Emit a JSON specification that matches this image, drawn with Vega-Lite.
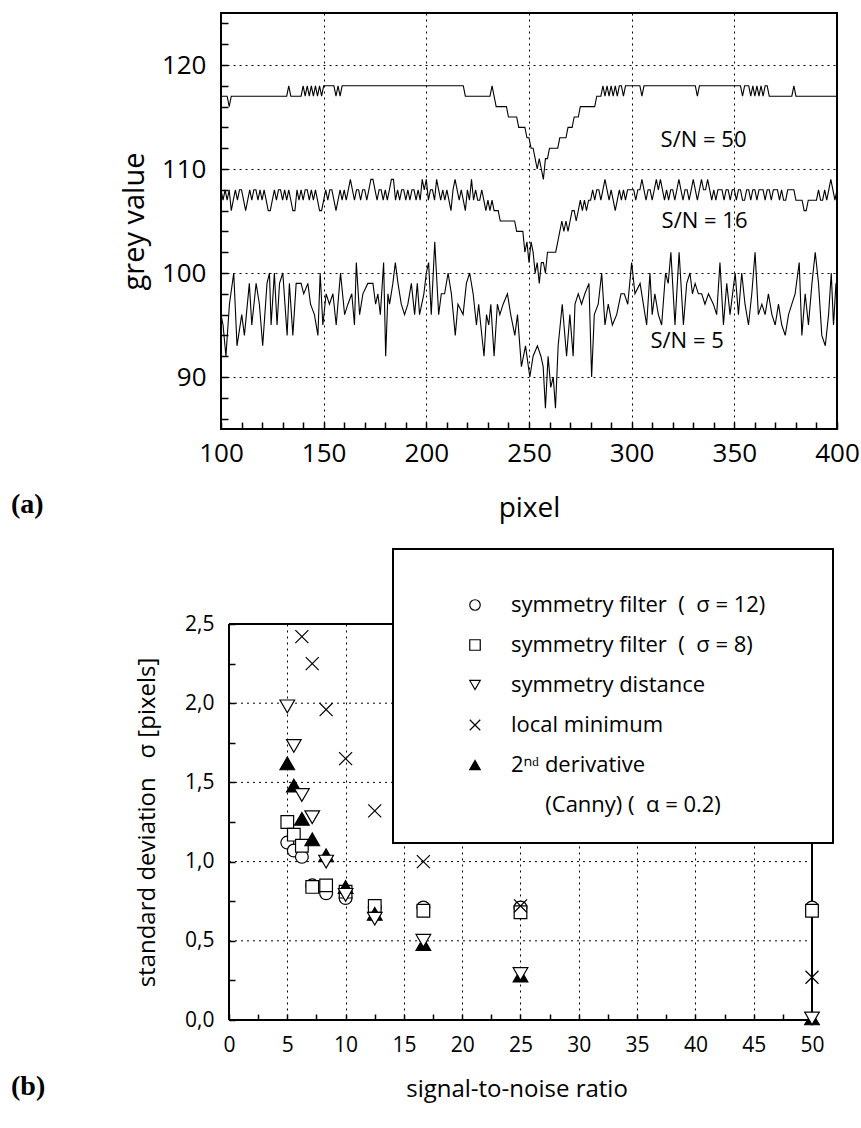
{
"$schema": "https://vega.github.io/schema/vega-lite/v6.json",
"background": "white",
"padding": {"left": 10, "top": 9, "right": 0, "bottom": 12},
"spacing": 25,
"resolve": {"scale": {"shape": "independent", "fill": "independent", "size": "independent"}, "legend": {"shape": "independent", "fill": "independent", "size": "independent"}},
"config": {
 "font": "Open Sans",
 "view": {"stroke": "black", "strokeWidth": 2},
 "axis": {"domain": false, "labelFont": "Open Sans", "titleFont": "Open Sans", "labelColor": "black", "titleColor": "black", "tickColor": "black", "tickWidth": 1.5, "titleFontWeight": "normal", "labelFlush": false, "labelOverlap": false, "gridColor": "black", "gridDash": [2, 4], "gridWidth": 1, "tickCount": 200},
 "legend": {"strokeWidth": 2}
},
"datasets": {
 "sn50": [
  {"p":100,"v":117},{"p":103,"v":117},{"p":104,"v":116},{"p":105,"v":117},{"p":132,"v":117},{"p":133,"v":118},{"p":134,"v":117},{"p":139,"v":117},{"p":140,"v":118},{"p":141,"v":117},{"p":142,"v":118},{"p":143,"v":117},{"p":144,"v":118},{"p":145,"v":117},{"p":146,"v":118},{"p":147,"v":117},{"p":148,"v":118},{"p":149,"v":117},{"p":150,"v":118},{"p":155,"v":118},{"p":156,"v":117},{"p":157,"v":118},{"p":158,"v":117},{"p":159,"v":118},{"p":218,"v":118},{"p":219,"v":117},{"p":231,"v":117},{"p":232,"v":118},{"p":233,"v":117},{"p":234,"v":116},{"p":239,"v":116},{"p":240,"v":115},{"p":244,"v":115},{"p":245,"v":114},{"p":248,"v":114},{"p":249,"v":113},{"p":250,"v":113},{"p":251,"v":112},{"p":252,"v":112},{"p":253,"v":111},{"p":254,"v":110},{"p":255,"v":111},{"p":256,"v":110},{"p":257,"v":109},{"p":258,"v":111},{"p":259,"v":111},{"p":260,"v":112},{"p":264,"v":112},{"p":265,"v":113},{"p":268,"v":113},{"p":269,"v":114},{"p":271,"v":114},{"p":272,"v":115},{"p":274,"v":115},{"p":275,"v":116},{"p":282,"v":116},{"p":283,"v":117},{"p":285,"v":117},{"p":286,"v":118},{"p":287,"v":117},{"p":288,"v":118},{"p":289,"v":117},{"p":290,"v":118},{"p":291,"v":117},{"p":292,"v":118},{"p":293,"v":117},{"p":294,"v":118},{"p":295,"v":118},{"p":296,"v":117},{"p":297,"v":118},{"p":304,"v":118},{"p":305,"v":117},{"p":306,"v":118},{"p":331,"v":118},{"p":332,"v":117},{"p":333,"v":118},{"p":353,"v":118},{"p":354,"v":117},{"p":355,"v":118},{"p":357,"v":118},{"p":358,"v":117},{"p":359,"v":118},{"p":360,"v":117},{"p":361,"v":118},{"p":362,"v":117},{"p":363,"v":118},{"p":364,"v":117},{"p":365,"v":118},{"p":366,"v":118},{"p":367,"v":117},{"p":378,"v":117},{"p":379,"v":118},{"p":380,"v":117},{"p":400,"v":117}
 ],
 "sn16": [
  {"p":100,"v":108},{"p":101,"v":107},{"p":102,"v":108},{"p":103,"v":107},{"p":104,"v":108},{"p":105,"v":106},{"p":106,"v":107},{"p":107,"v":108},{"p":108,"v":107},{"p":109,"v":108},{"p":110,"v":108},{"p":111,"v":107},{"p":112,"v":106},{"p":113,"v":107},{"p":114,"v":108},{"p":115,"v":107},{"p":116,"v":108},{"p":117,"v":108},{"p":118,"v":107},{"p":119,"v":108},{"p":120,"v":107},{"p":121,"v":108},{"p":122,"v":107},{"p":123,"v":106},{"p":124,"v":106},{"p":125,"v":107},{"p":126,"v":108},{"p":127,"v":107},{"p":128,"v":108},{"p":129,"v":108},{"p":130,"v":107},{"p":131,"v":108},{"p":132,"v":107},{"p":133,"v":108},{"p":134,"v":107},{"p":135,"v":106},{"p":136,"v":106},{"p":137,"v":108},{"p":138,"v":107},{"p":139,"v":108},{"p":140,"v":107},{"p":141,"v":108},{"p":142,"v":108},{"p":143,"v":107},{"p":144,"v":108},{"p":145,"v":107},{"p":146,"v":108},{"p":147,"v":107},{"p":148,"v":106},{"p":149,"v":106},{"p":150,"v":107},{"p":151,"v":108},{"p":152,"v":107},{"p":153,"v":108},{"p":154,"v":108},{"p":155,"v":107},{"p":156,"v":106},{"p":157,"v":107},{"p":158,"v":108},{"p":159,"v":107},{"p":160,"v":108},{"p":161,"v":107},{"p":162,"v":108},{"p":163,"v":109},{"p":164,"v":108},{"p":165,"v":107},{"p":166,"v":108},{"p":167,"v":108},{"p":168,"v":107},{"p":169,"v":108},{"p":170,"v":108},{"p":171,"v":107},{"p":172,"v":108},{"p":173,"v":109},{"p":174,"v":109},{"p":175,"v":108},{"p":176,"v":107},{"p":177,"v":108},{"p":178,"v":108},{"p":179,"v":107},{"p":180,"v":108},{"p":181,"v":107},{"p":182,"v":108},{"p":183,"v":109},{"p":184,"v":109},{"p":185,"v":107},{"p":186,"v":108},{"p":187,"v":107},{"p":188,"v":108},{"p":189,"v":108},{"p":190,"v":107},{"p":191,"v":108},{"p":192,"v":107},{"p":193,"v":108},{"p":194,"v":108},{"p":195,"v":107},{"p":196,"v":108},{"p":197,"v":107},{"p":198,"v":109},{"p":199,"v":108},{"p":200,"v":109},{"p":201,"v":107},{"p":202,"v":108},{"p":203,"v":108},{"p":204,"v":107},{"p":205,"v":109},{"p":206,"v":108},{"p":207,"v":107},{"p":208,"v":108},{"p":209,"v":107},{"p":210,"v":108},{"p":211,"v":107},{"p":212,"v":106},{"p":213,"v":108},{"p":214,"v":109},{"p":215,"v":108},{"p":216,"v":107},{"p":217,"v":108},{"p":218,"v":107},{"p":219,"v":106},{"p":220,"v":108},{"p":221,"v":107},{"p":222,"v":109},{"p":223,"v":107},{"p":224,"v":108},{"p":225,"v":107},
  {"p":226,"v":107},{"p":227,"v":108},{"p":228,"v":107},{"p":229,"v":106},{"p":230,"v":107},{"p":231,"v":106},{"p":232,"v":107},{"p":233,"v":106},{"p":234,"v":106},{"p":235,"v":106},{"p":236,"v":105},{"p":243,"v":105},{"p":244,"v":104},{"p":247,"v":104},{"p":248,"v":102},{"p":249,"v":103},{"p":250,"v":101},{"p":251,"v":103},{"p":252,"v":102},{"p":253,"v":100},{"p":254,"v":101},{"p":255,"v":99},{"p":256,"v":101},{"p":257,"v":101},{"p":258,"v":100},{"p":259,"v":102},{"p":263,"v":102},{"p":264,"v":103},{"p":265,"v":104},{"p":266,"v":105},{"p":267,"v":104},{"p":268,"v":105},{"p":269,"v":104},{"p":270,"v":105},{"p":271,"v":106},{"p":272,"v":106},{"p":273,"v":105},{"p":274,"v":106},{"p":275,"v":107},{"p":276,"v":106},{"p":277,"v":107},{"p":278,"v":106},{"p":279,"v":107},{"p":280,"v":107},{"p":281,"v":108},{"p":282,"v":107},{"p":283,"v":108},{"p":284,"v":108},{"p":285,"v":107},
  {"p":286,"v":108},{"p":287,"v":109},{"p":288,"v":108},{"p":289,"v":107},{"p":290,"v":108},{"p":291,"v":107},{"p":292,"v":106},{"p":293,"v":107},{"p":294,"v":108},{"p":295,"v":107},{"p":296,"v":108},{"p":297,"v":107},{"p":298,"v":108},{"p":301,"v":108},{"p":302,"v":107},{"p":303,"v":108},{"p":304,"v":108},{"p":305,"v":109},{"p":306,"v":108},{"p":307,"v":107},{"p":308,"v":108},{"p":309,"v":108},{"p":310,"v":107},{"p":311,"v":108},{"p":312,"v":109},{"p":313,"v":108},{"p":314,"v":109},{"p":315,"v":108},{"p":316,"v":107},{"p":317,"v":108},{"p":318,"v":107},{"p":319,"v":108},{"p":320,"v":108},{"p":321,"v":107},{"p":322,"v":108},{"p":323,"v":109},{"p":324,"v":108},{"p":325,"v":107},{"p":326,"v":108},{"p":327,"v":108},{"p":328,"v":107},{"p":329,"v":108},{"p":330,"v":109},{"p":331,"v":108},{"p":332,"v":107},{"p":333,"v":108},{"p":334,"v":109},{"p":335,"v":108},{"p":336,"v":108},{"p":337,"v":109},{"p":338,"v":108},{"p":339,"v":107},{"p":340,"v":108},{"p":341,"v":107},{"p":342,"v":108},{"p":344,"v":108},{"p":345,"v":107},{"p":346,"v":108},{"p":347,"v":108},{"p":348,"v":107},{"p":349,"v":108},{"p":350,"v":108},{"p":351,"v":107},{"p":352,"v":108},{"p":353,"v":108},{"p":354,"v":107},{"p":355,"v":107},{"p":356,"v":108},{"p":357,"v":108},{"p":358,"v":107},{"p":359,"v":108},{"p":360,"v":108},{"p":361,"v":107},{"p":362,"v":108},{"p":364,"v":108},{"p":365,"v":107},{"p":366,"v":108},{"p":367,"v":108},{"p":368,"v":107},{"p":369,"v":108},{"p":371,"v":108},{"p":372,"v":107},{"p":373,"v":108},{"p":374,"v":107},{"p":375,"v":107},{"p":376,"v":108},{"p":379,"v":108},{"p":380,"v":107},{"p":383,"v":107},{"p":384,"v":106},{"p":385,"v":106},{"p":386,"v":107},{"p":390,"v":107},{"p":391,"v":108},{"p":392,"v":107},{"p":393,"v":107},{"p":394,"v":108},{"p":395,"v":107},{"p":396,"v":108},{"p":397,"v":109},{"p":398,"v":108},{"p":399,"v":107},{"p":400,"v":108}
 ],
 "sn5": [
  {"p":100,"v":96},{"p":101,"v":95},{"p":102.4,"v":92},{"p":104.1,"v":97},{"p":106.2,"v":100},{"p":107.8,"v":93},{"p":110.1,"v":96},{"p":111.4,"v":94},{"p":113.8,"v":99},{"p":115,"v":95},{"p":117.1,"v":99},{"p":118.7,"v":97},{"p":120.3,"v":93},{"p":122.4,"v":99},{"p":123.6,"v":100},{"p":124.4,"v":95},{"p":126,"v":100},{"p":127.3,"v":95},{"p":128.5,"v":99},{"p":130.1,"v":100},{"p":132.2,"v":94},{"p":133.3,"v":99},{"p":135,"v":94},{"p":136.6,"v":99},{"p":139,"v":99},{"p":140.3,"v":98},{"p":142.3,"v":99},{"p":143.6,"v":97},{"p":145.5,"v":96},{"p":147.2,"v":94},{"p":148.3,"v":100},{"p":149.6,"v":95},{"p":151.2,"v":98},{"p":152.8,"v":97},{"p":154.5,"v":98},{"p":156.1,"v":95},{"p":158.2,"v":100},{"p":160.2,"v":96},{"p":161.8,"v":97},{"p":163.7,"v":98},{"p":165,"v":95},{"p":165.9,"v":101},{"p":167.5,"v":96},{"p":169.1,"v":98},{"p":171.5,"v":99},{"p":174,"v":99},{"p":175.3,"v":97},{"p":176.4,"v":98},{"p":177.6,"v":96},{"p":179.2,"v":101},{"p":180.2,"v":92},{"p":181.3,"v":98},{"p":182.1,"v":97},{"p":183.7,"v":99},{"p":184.9,"v":101},{"p":186.2,"v":99},{"p":187.8,"v":97},{"p":189.4,"v":96},{"p":191,"v":97},{"p":192.7,"v":99},{"p":194.3,"v":96},{"p":195.6,"v":99},{"p":196.7,"v":96},{"p":198.8,"v":98},{"p":200,"v":100},{"p":201.1,"v":101},{"p":202.4,"v":96},{"p":204.1,"v":103},{"p":206,"v":96},{"p":207.3,"v":98},{"p":208.9,"v":98},{"p":210.6,"v":100},{"p":212.2,"v":98},{"p":214.1,"v":94},{"p":215.4,"v":97},{"p":217.9,"v":96},{"p":219.5,"v":99},{"p":221.1,"v":100},{"p":222.8,"v":98},{"p":224.4,"v":95},{"p":225.5,"v":97},{"p":226.5,"v":95},{"p":228.1,"v":92},{"p":229.3,"v":96},{"p":230.4,"v":95},{"p":231.4,"v":97},{"p":233,"v":92},{"p":234.6,"v":97},{"p":235.8,"v":96},{"p":237.4,"v":97},{"p":239.5,"v":98},{"p":241.1,"v":96},{"p":243.1,"v":94},{"p":244.4,"v":96},{"p":246.3,"v":91},{"p":248.3,"v":93},{"p":250.4,"v":90},{"p":252,"v":92},{"p":254.1,"v":93},{"p":255.8,"v":92},{"p":256.9,"v":91},{"p":258,"v":87},{"p":259.3,"v":92},{"p":260.6,"v":89},{"p":261.8,"v":90},{"p":262.9,"v":87},{"p":264.2,"v":93},{"p":266.2,"v":97},{"p":268.3,"v":92},{"p":269.9,"v":96},{"p":271.5,"v":92},{"p":272.4,"v":97},{"p":274,"v":98},{"p":275.6,"v":97},{"p":277.2,"v":98},{"p":279.2,"v":99},{"p":280.5,"v":90},{"p":281.8,"v":96},{"p":283.7,"v":97},{"p":285.4,"v":100},{"p":287,"v":95},{"p":288.6,"v":97},{"p":290.6,"v":95},{"p":292.7,"v":96},{"p":294.8,"v":98},{"p":296.4,"v":98},{"p":298.1,"v":97},{"p":300,"v":101},{"p":301.6,"v":98},{"p":304.1,"v":99},{"p":307.3,"v":95},{"p":308.9,"v":100},{"p":310,"v":96},{"p":311.3,"v":98},{"p":313,"v":96},{"p":314.6,"v":95},{"p":316.5,"v":100},{"p":317.8,"v":99},{"p":319.1,"v":102},{"p":321.1,"v":95},{"p":323.1,"v":102},{"p":325.2,"v":95},{"p":326.8,"v":99},{"p":328.4,"v":100},{"p":329.6,"v":98},{"p":330.9,"v":99},{"p":332.5,"v":98},{"p":334.1,"v":98},{"p":335.7,"v":97},{"p":337.4,"v":98},{"p":339.8,"v":97},{"p":341.4,"v":96},{"p":343,"v":101},{"p":344.7,"v":95},{"p":346.3,"v":99},{"p":347.9,"v":96},{"p":350.4,"v":100},{"p":352,"v":96},{"p":353.6,"v":100},{"p":355.2,"v":97},{"p":356.9,"v":95},{"p":358.5,"v":98},{"p":360.1,"v":102},{"p":361.7,"v":96},{"p":363.4,"v":97},{"p":365,"v":96},{"p":366.6,"v":98},{"p":368.3,"v":96},{"p":369.9,"v":95},{"p":371.5,"v":97},{"p":373.1,"v":95},{"p":374.8,"v":94},{"p":376.4,"v":96},{"p":378,"v":97},{"p":379.6,"v":98},{"p":381.6,"v":101},{"p":382.9,"v":94},{"p":384.5,"v":98},{"p":386.1,"v":95},{"p":387.8,"v":99},{"p":389.4,"v":102},{"p":391,"v":99},{"p":392.6,"v":94},{"p":394.3,"v":93},{"p":395.9,"v":96},{"p":397.2,"v":100},{"p":398.3,"v":95},{"p":399.5,"v":99},{"p":400,"v":98}
 ],
 "snlabels": [
  {"p":335,"v":112.8,"t":"S/N = 50"},
  {"p":335.5,"v":105,"t":"S/N = 16"},
  {"p":327,"v":93.5,"t":"S/N = 5"}
 ],
 "sigma": [
  {"snr":5,"sd":1.12,"m":"c12"},{"snr":5.56,"sd":1.07,"m":"c12"},{"snr":6.25,"sd":1.03,"m":"c12"},{"snr":7.14,"sd":0.85,"m":"c12"},{"snr":8.33,"sd":0.8,"m":"c12"},{"snr":10,"sd":0.77,"m":"c12"},{"snr":12.5,"sd":0.71,"m":"c12"},{"snr":16.67,"sd":0.71,"m":"c12"},{"snr":25,"sd":0.71,"m":"c12"},{"snr":50,"sd":0.71,"m":"c12"},
  {"snr":5,"sd":1.25,"m":"c8"},{"snr":5.56,"sd":1.17,"m":"c8"},{"snr":6.25,"sd":1.1,"m":"c8"},{"snr":7.14,"sd":0.84,"m":"c8"},{"snr":8.33,"sd":0.85,"m":"c8"},{"snr":10,"sd":0.81,"m":"c8"},{"snr":12.5,"sd":0.72,"m":"c8"},{"snr":16.67,"sd":0.69,"m":"c8"},{"snr":25,"sd":0.68,"m":"c8"},{"snr":50,"sd":0.69,"m":"c8"},
  {"snr":5,"sd":1.62,"m":"d2"},{"snr":5.56,"sd":1.48,"m":"d2"},{"snr":6.25,"sd":1.27,"m":"d2"},{"snr":7.14,"sd":1.14,"m":"d2"},{"snr":8.33,"sd":1.04,"m":"d2"},{"snr":10,"sd":0.84,"m":"d2"},{"snr":12.5,"sd":0.67,"m":"d2"},{"snr":16.67,"sd":0.48,"m":"d2"},{"snr":25,"sd":0.28,"m":"d2"},{"snr":50,"sd":0.01,"m":"d2"},
  {"snr":5,"sd":1.98,"m":"sd"},{"snr":5.56,"sd":1.73,"m":"sd"},{"snr":6.25,"sd":1.42,"m":"sd"},{"snr":7.14,"sd":1.28,"m":"sd"},{"snr":8.33,"sd":1.0,"m":"sd"},{"snr":10,"sd":0.79,"m":"sd"},{"snr":12.5,"sd":0.64,"m":"sd"},{"snr":16.67,"sd":0.5,"m":"sd"},{"snr":25,"sd":0.29,"m":"sd"},{"snr":50,"sd":0.01,"m":"sd"},
  {"snr":6.25,"sd":2.42,"m":"lm"},{"snr":7.14,"sd":2.25,"m":"lm"},{"snr":8.33,"sd":1.96,"m":"lm"},{"snr":10,"sd":1.65,"m":"lm"},{"snr":12.5,"sd":1.32,"m":"lm"},{"snr":16.67,"sd":1.0,"m":"lm"},{"snr":25,"sd":0.72,"m":"lm"},{"snr":50,"sd":0.27,"m":"lm"}
 ],
 "ygrid": [{"g":0.5},{"g":1.0},{"g":1.5},{"g":2.0}],
 "hframe": [{"g":0},{"g":2.5}],
 "vframe": [{"g":0},{"g":50}]
},
"vconcat": [
 {
  "width": 616, "height": 416,
  "title": {"text": "(a)", "orient": "bottom", "anchor": "start", "frame": "group", "font": "Liberation Serif", "fontWeight": "bold", "fontSize": 28, "color": "black", "dx": -210, "dy": -31, "offset": 0},
  "layer": [
   {"data": {"name": "sn5"}, "mark": {"type": "line", "color": "black", "strokeWidth": 1.1},
    "encoding": {
     "x": {"field": "p", "type": "quantitative", "scale": {"domain": [100, 400], "nice": false},
      "axis": {"title": "pixel", "values": [100,110,120,130,140,150,160,170,180,190,200,210,220,230,240,250,260,270,280,290,300,310,320,330,340,350,360,370,380,390,400], "tickCount": 200,
       "labelExpr": "datum.value % 50 === 0 ? '' + datum.value : ''", "labelOverlap": false, "grid": true,
       "gridOpacity": {"condition": {"test": "datum.value % 50 === 0 && datum.value > 100 && datum.value < 400", "value": 1}, "value": 0},
       "tickSize": -7, "labelFontSize": 26, "labelPadding": 18, "titleFontSize": 28, "titlePadding": 28}},
     "y": {"field": "v", "type": "quantitative", "scale": {"domain": [85, 125], "nice": false, "zero": false},
      "axis": {"title": "grey value", "values": [86,88,90,92,94,96,98,100,102,104,106,108,110,112,114,116,118,120,122,124], "tickCount": 200,
       "labelExpr": "datum.value % 10 === 0 ? '' + datum.value : ''", "labelOverlap": false, "grid": true,
       "gridOpacity": {"condition": {"test": "datum.value % 10 === 0", "value": 1}, "value": 0},
       "tickSize": -7, "labelFontSize": 26, "labelPadding": 22, "titleFontSize": 29, "titlePadding": 12}}
    }},
   {"data": {"name": "sn16"}, "mark": {"type": "line", "color": "black", "strokeWidth": 1.1},
    "encoding": {"x": {"field": "p", "type": "quantitative"}, "y": {"field": "v", "type": "quantitative"}}},
   {"data": {"name": "sn50"}, "mark": {"type": "line", "color": "black", "strokeWidth": 1.1},
    "encoding": {"x": {"field": "p", "type": "quantitative"}, "y": {"field": "v", "type": "quantitative"}}},
   {"mark": {"type": "rule", "color": "black", "strokeWidth": 1.4, "strokeDash": [9, 3, 2, 3]},
    "encoding": {"x": {"datum": 256.6}}},
   {"data": {"name": "snlabels"}, "mark": {"type": "text", "font": "Open Sans", "fontSize": 22, "color": "black", "align": "center", "baseline": "middle"},
    "encoding": {"x": {"field": "p", "type": "quantitative"}, "y": {"field": "v", "type": "quantitative"}, "text": {"field": "t"}}}
  ]
 },
 {
  "width": 591, "height": 396,
  "view": {"stroke": null},
  "title": {"text": "(b)", "orient": "bottom", "anchor": "start", "frame": "group", "font": "Liberation Serif", "fontWeight": "bold", "fontSize": 28, "color": "black", "dx": -210, "dy": -28, "offset": 0},
  "layer": [
   {"data": {"name": "ygrid"}, "mark": {"type": "rule", "color": "black", "strokeWidth": 1, "strokeDash": [2, 4]},
    "encoding": {"x": {"datum": 0}, "x2": {"datum": 50}, "y": {"field": "g", "type": "quantitative"}}},
   {"data": {"name": "hframe"}, "mark": {"type": "rule", "color": "black", "strokeWidth": 2},
    "encoding": {"x": {"datum": 0}, "x2": {"datum": 50}, "y": {"field": "g", "type": "quantitative"}}},
   {"data": {"name": "vframe"}, "mark": {"type": "rule", "color": "black", "strokeWidth": 2},
    "encoding": {"x": {"field": "g", "type": "quantitative"}, "y": {"datum": 0}, "y2": {"datum": 2.5}}},
   {"data": {"name": "sigma"}, "mark": {"type": "point", "filled": true, "stroke": "black", "strokeWidth": 1.2, "opacity": 1},
    "encoding": {
     "x": {"field": "snr", "type": "quantitative", "scale": {"domain": [-0.686, 50], "nice": false, "zero": false},
      "axis": {"title": "signal-to-noise ratio", "values": [0,2.5,5,7.5,10,12.5,15,17.5,20,22.5,25,27.5,30,32.5,35,37.5,40,42.5,45,47.5,50], "tickCount": 200,
       "labelExpr": "datum.value % 5 === 0 ? '' + datum.value : ''", "labelOverlap": false, "grid": true,
       "gridOpacity": {"condition": {"test": "datum.value % 5 === 0 && datum.value > 0 && datum.value < 50", "value": 1}, "value": 0},
       "tickSize": -6, "labelFontSize": 21, "labelPadding": 20, "titleFontSize": 24, "titlePadding": 22}},
     "y": {"field": "sd", "type": "quantitative", "scale": {"domain": [0, 2.5], "nice": false},
      "axis": {"title": "standard deviation\u00a0\u00a0\u00a0σ [pixels]", "offset": -8, "values": [0,0.25,0.5,0.75,1,1.25,1.5,1.75,2,2.25,2.5], "tickCount": 200,
       "labelExpr": "(datum.value * 2) % 1 === 0 ? replace(format(datum.value, '.1f'), '.', ',') : ''", "labelOverlap": false, "grid": false,
       "tickSize": -6, "labelFontSize": 21, "labelPadding": 21, "titleFontSize": 24, "titlePadding": 25}},
     "shape": {"field": "m", "type": "nominal",
      "scale": {"domain": ["c12", "c8", "sd", "lm", "d2", "canny"], "range": ["circle", "square", "triangle-down", "M-1,-1L1,1M1,-1L-1,1", "triangle-up", "M0,0"]},
      "legend": {"orient": "none", "legendX": 172, "legendY": -75, "direction": "vertical", "title": "\u00a0", "titleFontSize": 10, "titlePadding": 8, "padding": 27, "fillColor": "white", "strokeColor": "black", "symbolSize": 110, "symbolStrokeWidth": 1.2, "symbolOffset": 44, "labelOffset": 25, "rowPadding": 18, "labelFont": "Open Sans", "labelFontSize": 22, "labelColor": "black", "labelLimit": 700,
       "labelExpr": "{'c12': 'symmetry filter\u00a0\u00a0(\u00a0\u00a0σ = 12)\u00a0\u00a0\u00a0\u00a0\u00a0\u00a0\u00a0\u200b', 'c8': 'symmetry filter\u00a0\u00a0(\u00a0\u00a0σ = 8)', 'sd': 'symmetry distance', 'lm': 'local minimum', 'd2': '2ⁿᵈ derivative', 'canny': '\u200b\u00a0\u00a0\u00a0\u00a0\u00a0\u00a0(Canny) (\u00a0\u00a0α = 0.2)'}[datum.label]"}},
     "fill": {"field": "m", "type": "nominal",
      "scale": {"domain": ["c12", "c8", "sd", "lm", "d2", "canny"], "range": ["white", "white", "white", "white", "black", "transparent"]},
      "legend": {"orient": "none", "legendX": 172, "legendY": -75, "direction": "vertical", "title": "\u00a0", "titleFontSize": 10, "titlePadding": 8, "padding": 27, "fillColor": "white", "strokeColor": "black", "symbolSize": 110, "symbolStrokeWidth": 1.2, "symbolOffset": 44, "labelOffset": 25, "rowPadding": 18, "labelFont": "Open Sans", "labelFontSize": 22, "labelColor": "black", "labelLimit": 700,
       "labelExpr": "{'c12': 'symmetry filter\u00a0\u00a0(\u00a0\u00a0σ = 12)\u00a0\u00a0\u00a0\u00a0\u00a0\u00a0\u00a0\u200b', 'c8': 'symmetry filter\u00a0\u00a0(\u00a0\u00a0σ = 8)', 'sd': 'symmetry distance', 'lm': 'local minimum', 'd2': '2ⁿᵈ derivative', 'canny': '\u200b\u00a0\u00a0\u00a0\u00a0\u00a0\u00a0(Canny) (\u00a0\u00a0α = 0.2)'}[datum.label]"}},
     "size": {"field": "m", "type": "nominal", "scale": {"type": "ordinal", "domain": ["canny", "d2", "lm", "sd", "c8", "c12"], "range": [0, 215, 170, 215, 160, 165]}, "legend": null}
    }}
  ]
 }
]
}
